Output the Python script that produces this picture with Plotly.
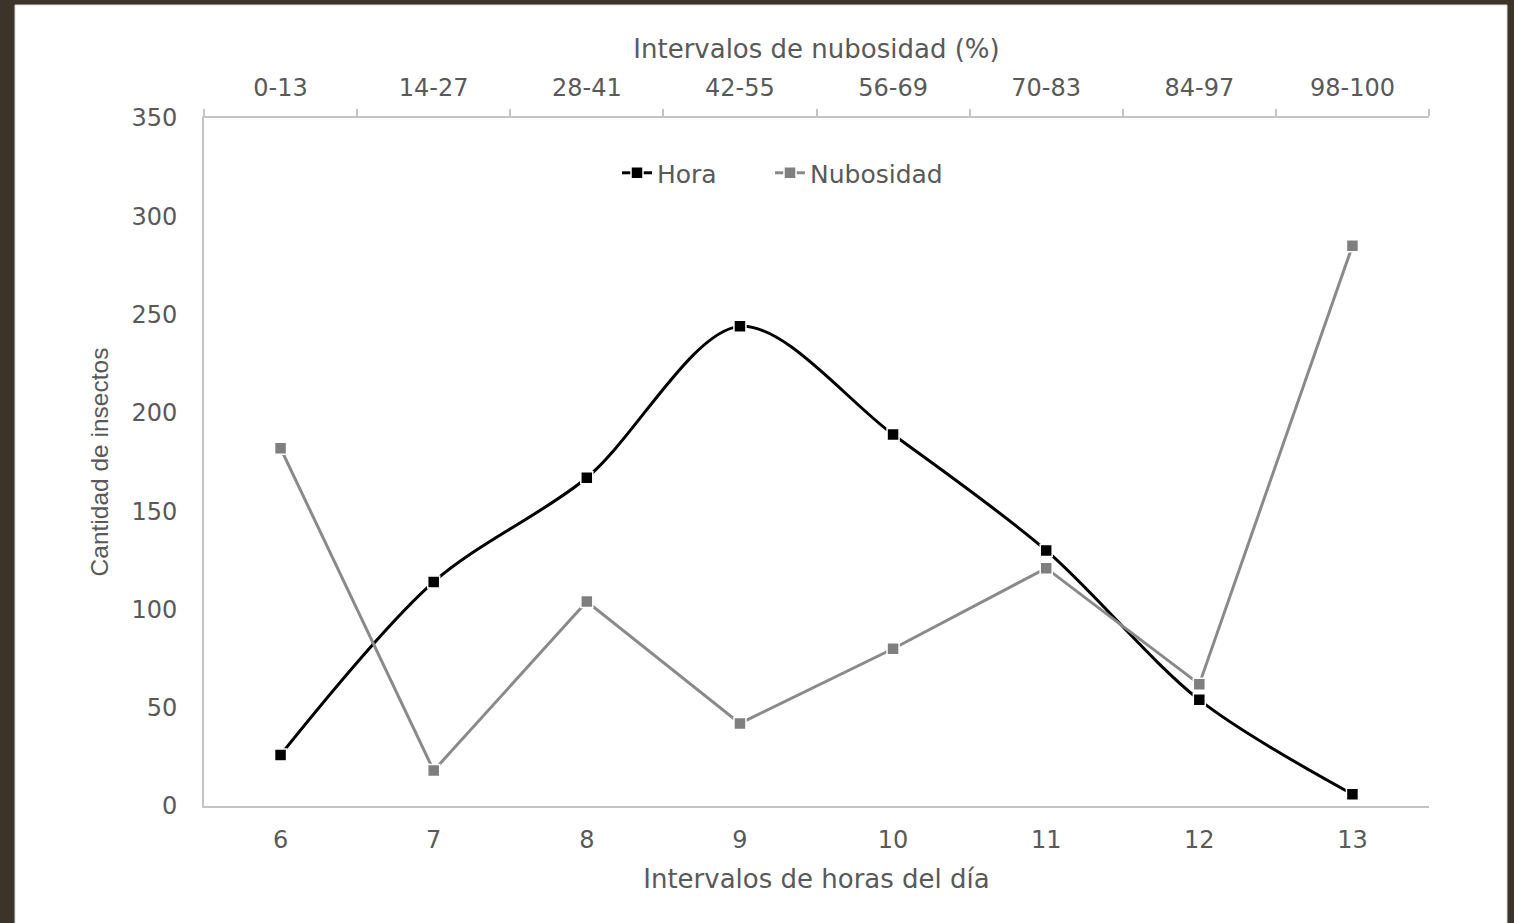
import plotly.graph_objects as go

horas = ["6", "7", "8", "9", "10", "11", "12", "13"]
hora_vals = [26, 114, 167, 244, 189, 130, 54, 6]
nub_cats = ["0-13", "14-27", "28-41", "42-55", "56-69", "70-83", "84-97", "98-100"]
nub_vals = [182, 18, 104, 42, 80, 121, 62, 285]
y_ticks = [0, 50, 100, 150, 200, 250, 300, 350]

W, H = 1514, 923
L, R, T, B = 204, 85, 118, 117
pw, ph = W - L - R, H - T - B

txt = "#595959"
axc = "#c4c4c4"
fnt = "DejaVu Sans"

fig = go.Figure()
fig.add_trace(go.Scatter(
    x=horas, y=hora_vals, name="Hora", mode="lines+markers",
    line=dict(color="#000000", width=3, shape="spline", smoothing=0.9),
    marker=dict(symbol="square", size=12, color="#000000", line=dict(color="white", width=1.5)),
    xaxis="x", yaxis="y", legend="legend"))
fig.add_trace(go.Scatter(
    x=nub_cats, y=nub_vals, name="Nubosidad", mode="lines+markers",
    line=dict(color="#8a8a8a", width=3),
    marker=dict(symbol="square", size=12, color="#7f7f7f", line=dict(color="white", width=1.5)),
    xaxis="x2", yaxis="y", legend="legend2"))

leg_common = dict(orientation="h", y=0.92, xanchor="left", yanchor="middle",
                  font=dict(family=fnt, size=25, color=txt), bgcolor="rgba(0,0,0,0)")

fig.update_layout(
    width=W, height=H,
    margin=dict(l=L, r=R, t=T, b=B, pad=0),
    paper_bgcolor="#3d3429", plot_bgcolor="white",
    font=dict(family=fnt, color=txt, size=24),
    showlegend=True,
    legend=dict(x=(617 - L) / pw, **leg_common),
    legend2=dict(x=(770 - L) / pw, **leg_common),
    xaxis=dict(type="category", categoryorder="array", categoryarray=horas,
               range=[-0.5, 7.5], showline=True, linecolor=axc, linewidth=2,
               ticks="", showgrid=False, zeroline=False,
               tickfont=dict(family=fnt, size=24, color=txt), ticklabelstandoff=11,
               title=dict(text="Intervalos de horas del día", font=dict(family=fnt, size=26, color=txt), standoff=17)),
    xaxis2=dict(type="category", categoryorder="array", categoryarray=nub_cats,
                range=[-0.5, 7.5], overlaying="x", side="top", anchor="y",
                showline=True, linecolor=axc, linewidth=2,
                ticks="outside", tickson="boundaries", ticklen=7, tickcolor=axc, tickwidth=2,
                showgrid=False, zeroline=False,
                tickfont=dict(family=fnt, size=24, color=txt), ticklabelstandoff=10,
                title=dict(text="Intervalos de nubosidad (%)", font=dict(family=fnt, size=26, color=txt), standoff=8)),
    yaxis=dict(range=[0, 350], tickvals=y_ticks, showline=True, linecolor=axc, linewidth=2,
               ticks="", showgrid=False, zeroline=False,
               tickfont=dict(family=fnt, size=24, color=txt), ticklabelstandoff=20,
               title=dict(text="Cantidad de insectos",
                          font=dict(family="Liberation Sans Narrow, Liberation Sans", size=24.5, color=txt),
                          standoff=16)),
    shapes=[dict(type="rect", xref="paper", yref="paper", layer="below",
                 x0=(15 - L) / pw, x1=(1507 - L) / pw,
                 y0=(H - T - (H + 5)) / ph, y1=(H - B - 5) / ph,
                 fillcolor="white", line=dict(color="#d8d8d8", width=1))],
)

fig.write_html("out.html")
